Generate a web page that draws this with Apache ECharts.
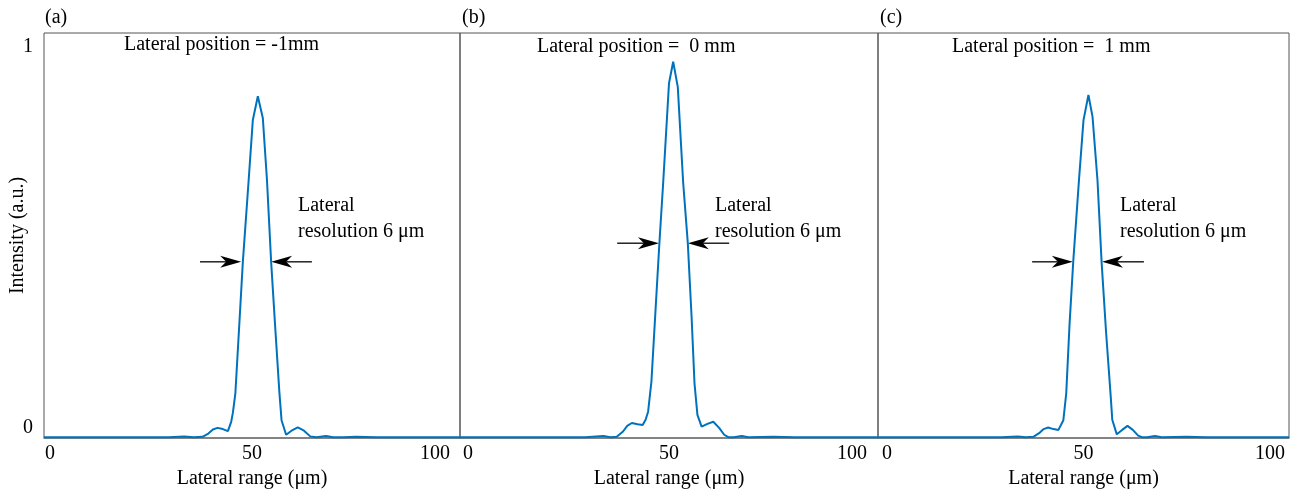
<!DOCTYPE html>
<html>
<head>
<meta charset="utf-8">
<script src="https://cdn.jsdelivr.net/npm/echarts@6/dist/echarts.min.js"></script>
<style>
html,body{margin:0;padding:0;background:#fff;}
#chart{width:1296px;height:490px;}
</style>
</head>
<body>
<div id="chart"></div>
<script>
// ---- data ----
const panelLabels = ['(a)', '(b)', '(c)'];
const panelTitles = ['Lateral position = -1mm', 'Lateral position =  0 mm', 'Lateral position =  1 mm'];
const xTicks = [0, 50, 100];
const yTicks = [0, 1];

const xA = [0, 20, 30, 33.7, 36, 38.1, 39.5, 40.6, 41.7, 43.0, 44.2, 45.0, 45.4, 46.0, 47.0, 47.8, 49.2, 50.2, 51.4, 52.6, 53.6, 54.6, 55.6, 56.6, 57.1, 58.2, 59.5, 61.0, 62.5, 64.0, 65.5, 67.8, 69.5, 72, 75, 80, 90, 100];
const yA = [0.002, 0.002, 0.002, 0.004, 0.002, 0.003, 0.011, 0.021, 0.025, 0.022, 0.017, 0.04, 0.062, 0.11, 0.29, 0.435, 0.637, 0.785, 0.844, 0.79, 0.637, 0.435, 0.27, 0.11, 0.044, 0.008, 0.018, 0.026, 0.018, 0.004, 0.002, 0.005, 0.002, 0.002, 0.003, 0.002, 0.002, 0.002];

const xB = [0, 20, 30, 34.3, 36, 37.5, 39, 40, 41.1, 42.5, 43.7, 44.4, 45.0, 45.8, 46.8, 47.7, 48.6, 50.0, 51.0, 52.1, 53.4, 54.5, 55.4, 56.1, 56.8, 57.8, 59.2, 60.6, 62.0, 63.2, 64.2, 65.5, 67.4, 69, 75, 80, 90, 100];
const yB = [0.002, 0.002, 0.002, 0.005, 0.002, 0.003, 0.016, 0.03, 0.037, 0.034, 0.032, 0.045, 0.065, 0.14, 0.32, 0.481, 0.629, 0.876, 0.929, 0.867, 0.629, 0.481, 0.3, 0.135, 0.057, 0.028, 0.035, 0.04, 0.025, 0.008, 0.002, 0.002, 0.005, 0.002, 0.003, 0.002, 0.002, 0.002];

const xC = [0, 20, 30, 34, 36, 37.8, 39.2, 40.3, 41.4, 42.7, 43.9, 45.1, 45.8, 46.6, 47.5, 48.9, 50.0, 51.2, 52.2, 53.4, 54.4, 55.5, 56.6, 57.0, 58.1, 59.4, 60.7, 62.0, 63.3, 64.2, 65.5, 67.4, 69, 75, 80, 90, 100];
const yC = [0.002, 0.002, 0.002, 0.004, 0.002, 0.003, 0.012, 0.022, 0.026, 0.022, 0.02, 0.044, 0.11, 0.28, 0.435, 0.637, 0.785, 0.847, 0.793, 0.637, 0.435, 0.26, 0.106, 0.045, 0.009, 0.02, 0.03, 0.02, 0.006, 0.002, 0.002, 0.005, 0.002, 0.003, 0.002, 0.002, 0.002];

// resolution arrows: [fromX, toX, y] in data units
const arrowsA = [[37.5, 47.4, 0.435], [64.4, 54.6, 0.435]];
const arrowsB = [[37.6, 47.6, 0.481], [64.4, 54.5, 0.481]];
const arrowsC = [[37.5, 47.4, 0.435], [64.7, 54.5, 0.435]];

const annotLine1 = 'Lateral';
const annotLine2 = 'resolution 6 μm';
const xName = 'Lateral range (μm)';
const yName = 'Intensity (a.u.)';

// ---- layout ----
const FONT = '"Liberation Serif", "Times New Roman", serif';
const FS = 20;
const grids = [
  {left: 44, top: 33, width: 416, height: 405},
  {left: 460, top: 33, width: 418, height: 405},
  {left: 878, top: 33, width: 411, height: 405}
];
const xs = [xA, xB, xC], ys = [yA, yB, yC];
const arrows = [arrowsA, arrowsB, arrowsC];
const titleLeft = [124, 537, 952];
const titleY = [45, 47, 47];
const labelLeft = [45, 462, 880];
const annotLeft = [298, 715, 1120];
const minPad = [1, 3, 4];
const maxPad = [10, 11, 4];

const chart = echarts.init(document.getElementById('chart'), null, {renderer: 'canvas'});

const option = {
  animation: false,
  backgroundColor: '#fff',
  grid: grids.map(g => Object.assign({show: true, borderColor: '#555', borderWidth: 1,
    backgroundColor: 'transparent', containLabel: false, outerBoundsMode: 'none'}, g)),
  xAxis: grids.map((g, i) => ({
    type: 'value', gridIndex: i, min: xTicks[0], max: xTicks[2], interval: xTicks[1] - xTicks[0],
    axisLine: {show: true, onZero: false, lineStyle: {color: '#777', width: 1.5}},
    axisTick: {show: false}, splitLine: {show: false},
    axisLabel: {show: true, margin: 6, color: '#000', fontFamily: FONT, fontSize: FS,
      alignMinLabel: 'left', alignMaxLabel: 'right',
      formatter: v => v === xTicks[0] ? '{n|' + v + '}' : (v === xTicks[2] ? '{m|' + v + '}' : String(v)),
      rich: {
        n: {padding: [0, 0, 0, minPad[i]], fontFamily: FONT, fontSize: FS, color: '#000'},
        m: {padding: [0, maxPad[i], 0, 0], fontFamily: FONT, fontSize: FS, color: '#000'}
      }},
    name: xName, nameLocation: 'middle', nameGap: 28,
    nameTextStyle: {color: '#000', fontFamily: FONT, fontSize: FS}
  })),
  yAxis: grids.map((g, i) => ({
    type: 'value', gridIndex: i, min: yTicks[0], max: yTicks[1], interval: yTicks[1] - yTicks[0],
    axisLine: {show: false}, axisTick: {show: false}, splitLine: {show: false},
    axisLabel: {show: i === 0, margin: 11, color: '#000', fontFamily: FONT, fontSize: FS,
      verticalAlignMinLabel: 'bottom', verticalAlignMaxLabel: 'top',
      formatter: v => v === yTicks[1] ? '{t|' + v + '}' : '{b|' + v + '}',
      rich: {
        t: {padding: [4, 0, 0, 0], fontFamily: FONT, fontSize: FS, color: '#000'},
        b: {padding: [0, 0, 0, 0], fontFamily: FONT, fontSize: FS, color: '#000'}
      }},
    name: i === 0 ? yName : '', nameLocation: 'middle', nameGap: 16, nameMoveOverlap: false,
    nameTextStyle: {color: '#000', fontFamily: FONT, fontSize: FS}
  })),
  series: xs.map((xv, i) => ({
    type: 'line', xAxisIndex: i, yAxisIndex: i,
    data: xv.map((x, k) => [x, ys[i][k]]),
    showSymbol: false, symbol: 'none', smooth: false,
    lineStyle: {color: '#0072BD', width: 2},
    clip: false
  }))
};
chart.setOption(option);

// text + arrow annotations
const els = [];
for (let i = 0; i < 3; i++) {
  const font = FS + 'px ' + FONT;
  els.push({type: 'text', x: labelLeft[i], y: 18, style: {text: panelLabels[i], font: font, fill: '#000', verticalAlign: 'middle', align: 'left'}});
  els.push({type: 'text', x: titleLeft[i], y: titleY[i], style: {text: panelTitles[i], font: font, fill: '#000', verticalAlign: 'middle', align: 'left'}});
  els.push({type: 'text', x: annotLeft[i], y: 206, style: {text: annotLine1, font: font, fill: '#000', verticalAlign: 'middle', align: 'left'}});
  els.push({type: 'text', x: annotLeft[i], y: 232, style: {text: annotLine2, font: font, fill: '#000', verticalAlign: 'middle', align: 'left'}});
  arrows[i].forEach(a => {
    const p0 = chart.convertToPixel({gridIndex: i}, [a[0], a[2]]);
    const p1 = chart.convertToPixel({gridIndex: i}, [a[1], a[2]]);
    const dir = p1[0] > p0[0] ? 1 : -1;
    const tipX = p1[0], y = p1[1];
    const L = 21, notch = 15, hw = 6;
    els.push({type: 'line', shape: {x1: p0[0], y1: y, x2: tipX - dir * notch, y2: y}, style: {stroke: '#000', lineWidth: 1.3}});
    els.push({type: 'polygon', shape: {points: [[tipX, y], [tipX - dir * L, y - hw], [tipX - dir * notch, y], [tipX - dir * L, y + hw]]}, style: {fill: '#000'}});
  });
}
chart.setOption({graphic: {elements: els}});
</script>
</body>
</html>
